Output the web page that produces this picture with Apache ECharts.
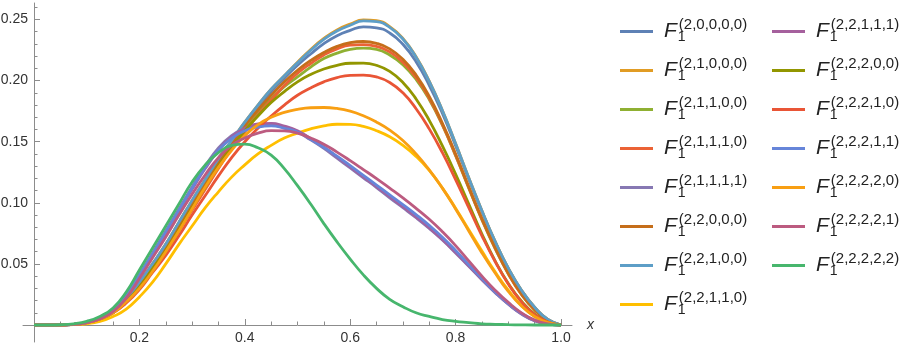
<!DOCTYPE html>
<html>
<head>
<meta charset="utf-8">
<script src="https://cdn.jsdelivr.net/npm/echarts@6/dist/echarts.min.js"></script>
<style>
html, body { margin: 0; padding: 0; background: #fff; }
#main { width: 900px; height: 344px; }
</style>
</head>
<body>
<div id="main"></div>
<script>
// x sample points
var xs = [0, 0.025, 0.05, 0.075, 0.1, 0.125, 0.15, 0.175, 0.2, 0.225, 0.25, 0.275, 0.3, 0.325, 0.35, 0.375, 0.4,
          0.425, 0.45, 0.475, 0.5, 0.525, 0.55, 0.575, 0.6, 0.625, 0.65, 0.675, 0.7, 0.725, 0.75, 0.775, 0.8,
          0.825, 0.85, 0.875, 0.9, 0.925, 0.95, 0.975, 1.0];

// curves
var s20000 = [0, 0, 0.0001, 0.0005, 0.002, 0.005, 0.011, 0.021, 0.035, 0.050, 0.066, 0.084, 0.101, 0.118, 0.135, 0.150, 0.165,
              0.178, 0.191, 0.202, 0.2125, 0.2218, 0.2302, 0.2368, 0.2411, 0.2440, 0.2432, 0.2390, 0.2297, 0.2155, 0.1962, 0.1732, 0.1468,
              0.1192, 0.0928, 0.068, 0.0462, 0.0283, 0.0144, 0.0045, 0];
var s21000 = [0, 0, 0.0001, 0.0005, 0.002, 0.005, 0.011, 0.021, 0.035, 0.050, 0.066, 0.084, 0.102, 0.119, 0.136, 0.151, 0.166,
              0.180, 0.193, 0.204, 0.215, 0.2255, 0.2345, 0.2415, 0.2462, 0.2497, 0.2490, 0.2442, 0.2345, 0.2195, 0.1995, 0.1755, 0.1485,
              0.1205, 0.0935, 0.0685, 0.0465, 0.0285, 0.0145, 0.0045, 0];
var s21100 = [0, 0, 0.0001, 0.0005, 0.002, 0.005, 0.011, 0.020, 0.033, 0.048, 0.063, 0.080, 0.098, 0.115, 0.132, 0.147, 0.161,
              0.174, 0.185, 0.195, 0.203, 0.211, 0.218, 0.2225, 0.2255, 0.2265, 0.2255, 0.221, 0.213, 0.201, 0.1845, 0.1635, 0.1385,
              0.112, 0.086, 0.0625, 0.042, 0.025, 0.0125, 0.004, 0];
var s21110 = [0, 0, 0.0001, 0.0005, 0.002, 0.005, 0.010, 0.019, 0.031, 0.045, 0.060, 0.077, 0.094, 0.111, 0.128, 0.144, 0.158,
              0.172, 0.184, 0.196, 0.206, 0.214, 0.221, 0.226, 0.229, 0.2295, 0.228, 0.2235, 0.215, 0.2025, 0.1855, 0.164, 0.139,
              0.1125, 0.0865, 0.063, 0.042, 0.025, 0.0125, 0.004, 0];
var s21111 = [0, 0, 0.0001, 0.0006, 0.002, 0.006, 0.012, 0.024, 0.041, 0.059, 0.077, 0.095, 0.113, 0.130, 0.145, 0.155, 0.161,
              0.164, 0.1645, 0.162, 0.158, 0.1515, 0.1445, 0.1365, 0.1285, 0.1205, 0.1125, 0.104, 0.096, 0.0878, 0.079, 0.0695, 0.059,
              0.048, 0.037, 0.0265, 0.017, 0.009, 0.0035, 0.001, 0];
var s22000 = [0, 0, 0.0001, 0.0005, 0.002, 0.005, 0.011, 0.021, 0.034, 0.049, 0.064, 0.081, 0.099, 0.116, 0.133, 0.148, 0.163,
              0.176, 0.188, 0.199, 0.2085, 0.2165, 0.223, 0.228, 0.231, 0.232, 0.2305, 0.226, 0.2175, 0.2045, 0.187, 0.165, 0.140,
              0.113, 0.087, 0.0635, 0.0425, 0.0255, 0.0125, 0.004, 0];
var s22100 = [0, 0, 0.0001, 0.0005, 0.002, 0.005, 0.011, 0.021, 0.035, 0.050, 0.066, 0.084, 0.102, 0.119, 0.136, 0.151, 0.166,
              0.180, 0.193, 0.204, 0.2145, 0.2248, 0.2337, 0.2405, 0.2453, 0.2488, 0.2482, 0.2436, 0.234, 0.2192, 0.1993, 0.1755, 0.1485,
              0.1205, 0.0935, 0.0685, 0.0465, 0.0285, 0.0145, 0.0045, 0];
var s22110 = [0, 0, 0.0001, 0.0003, 0.001, 0.003, 0.007, 0.013, 0.023, 0.035, 0.050, 0.066, 0.081, 0.096, 0.109, 0.121, 0.131,
              0.140, 0.147, 0.153, 0.157, 0.1605, 0.163, 0.1643, 0.1642, 0.1625, 0.159, 0.154, 0.147, 0.138, 0.1265, 0.112, 0.0955,
              0.078, 0.0605, 0.0435, 0.0285, 0.016, 0.007, 0.002, 0];
var s22111 = [0, 0, 0.0001, 0.0006, 0.002, 0.006, 0.012, 0.023, 0.040, 0.057, 0.075, 0.093, 0.111, 0.128, 0.143, 0.154, 0.161,
              0.1645, 0.165, 0.1628, 0.159, 0.1525, 0.1455, 0.1375, 0.1295, 0.1213, 0.1132, 0.105, 0.0968, 0.0885, 0.0797, 0.070, 0.0595,
              0.0485, 0.0373, 0.0268, 0.0172, 0.0092, 0.0036, 0.001, 0];
var s22200 = [0, 0, 0.0001, 0.0005, 0.002, 0.005, 0.010, 0.019, 0.031, 0.046, 0.061, 0.078, 0.096, 0.113, 0.130, 0.145, 0.159,
              0.171, 0.182, 0.191, 0.199, 0.205, 0.2095, 0.2125, 0.2142, 0.2143, 0.2125, 0.2075, 0.1985, 0.185, 0.1675, 0.1465, 0.1235,
              0.099, 0.0745, 0.0525, 0.034, 0.0195, 0.009, 0.0025, 0];
var s22210 = [0, 0, 0.0001, 0.0005, 0.002, 0.005, 0.010, 0.018, 0.029, 0.043, 0.057, 0.073, 0.090, 0.106, 0.122, 0.137, 0.150,
              0.161, 0.171, 0.180, 0.188, 0.194, 0.199, 0.2025, 0.2043, 0.2045, 0.203, 0.1985, 0.190, 0.177, 0.1605, 0.141, 0.119,
              0.096, 0.073, 0.052, 0.0335, 0.019, 0.0085, 0.0025, 0];
var s22211 = [0, 0, 0.0001, 0.0006, 0.002, 0.006, 0.012, 0.024, 0.041, 0.058, 0.076, 0.094, 0.112, 0.129, 0.143, 0.153, 0.159,
              0.162, 0.163, 0.161, 0.158, 0.152, 0.1455, 0.1382, 0.1305, 0.1225, 0.1145, 0.1065, 0.0985, 0.0903, 0.0815, 0.0718, 0.061,
              0.0495, 0.038, 0.027, 0.0175, 0.0095, 0.0038, 0.001, 0];
var s22220 = [0, 0, 0.0001, 0.0005, 0.002, 0.005, 0.010, 0.019, 0.030, 0.044, 0.060, 0.077, 0.095, 0.113, 0.129, 0.143, 0.155,
              0.164, 0.170, 0.174, 0.1765, 0.1778, 0.178, 0.1772, 0.175, 0.1712, 0.166, 0.1595, 0.151, 0.140, 0.127, 0.112, 0.095,
              0.077, 0.059, 0.0425, 0.0275, 0.0155, 0.007, 0.002, 0];
var s22221 = [0, 0, 0.0001, 0.0005, 0.002, 0.005, 0.011, 0.022, 0.038, 0.055, 0.072, 0.090, 0.107, 0.123, 0.137, 0.147, 0.153,
              0.157, 0.159, 0.1588, 0.157, 0.153, 0.148, 0.1415, 0.1345, 0.1272, 0.1198, 0.112, 0.104, 0.0955, 0.0865, 0.0763, 0.065,
              0.0525, 0.040, 0.0285, 0.0185, 0.010, 0.004, 0.001, 0];
var s22222 = [0, 0, 0.0002, 0.001, 0.003, 0.007, 0.014, 0.027, 0.045, 0.063, 0.081, 0.099, 0.117, 0.131, 0.141, 0.147, 0.148,
              0.145, 0.139, 0.128, 0.114, 0.099, 0.083, 0.068, 0.054, 0.041, 0.030, 0.021, 0.015, 0.010, 0.007, 0.0045, 0.003,
              0.002, 0.001, 0.0006, 0.0003, 0.0001, 0, 0, 0];

var names = ['(2,0,0,0,0)', '(2,1,0,0,0)', '(2,1,1,0,0)', '(2,1,1,1,0)', '(2,1,1,1,1)',
             '(2,2,0,0,0)', '(2,2,1,0,0)', '(2,2,1,1,0)', '(2,2,1,1,1)', '(2,2,2,0,0)',
             '(2,2,2,1,0)', '(2,2,2,1,1)', '(2,2,2,2,0)', '(2,2,2,2,1)', '(2,2,2,2,2)'];
var values = [s20000, s21000, s21100, s21110, s21111, s22000, s22100, s22110,
              s22111, s22200, s22210, s22211, s22220, s22221, s22222];
var colors = ['#5E81B5', '#E19C24', '#8FB032', '#EB6235', '#8778B3', '#C56E1A', '#5D9EC7', '#FFBF00',
              '#A5609D', '#929600', '#E95536', '#6685D9', '#F89F13', '#BC5B80', '#47B66D'];

var xMajor = [0.2, 0.4, 0.6, 0.8, 1.0];
var xMinor = [0.05, 0.1, 0.15, 0.25, 0.3, 0.35, 0.45, 0.5, 0.55, 0.65, 0.7, 0.75, 0.85, 0.9, 0.95];
var yMajor = [0.05, 0.1, 0.15, 0.2, 0.25];
var yMinor = [0.01, 0.02, 0.03, 0.04, 0.06, 0.07, 0.08, 0.09, 0.11, 0.12, 0.13, 0.14,
              0.16, 0.17, 0.18, 0.19, 0.21, 0.22, 0.23, 0.24, 0.26];

var font = 'Liberation Sans';
var axisColor = '#8c8c8c';

var series = names.map(function (name, i) {
    return {
        name: name,
        type: 'line',
        xAxisIndex: 0,
        yAxisIndex: 0,
        smooth: true,
        symbol: 'none',
        color: colors[i],
        lineStyle: { width: 2.8 },
        data: xs.map(function (x, j) { return [x, values[i][j]]; })
    };
});

var legendText = {
    fontFamily: font,
    color: '#222',
    rich: {
        f: { fontFamily: font, fontSize: 21, fontStyle: 'italic', lineHeight: 30, padding: [0, 0, 0, 6] },
        b: { fontFamily: font, fontSize: 14, lineHeight: 14, width: 0, padding: [11, 0, 0, 1] },
        p: { fontFamily: font, fontSize: 15, lineHeight: 16, padding: [0, 0, 14, 1] }
    }
};
function legendFmt(name) {
    return '{f|F}{b|1}{p|' + name + '}';
}

var myChart = echarts.init(document.getElementById('main'));
var option = {
    animation: false,
    grid: { left: 23, top: 3, width: 549, height: 339, containLabel: false, outerBoundsMode: 'none' },
    legend: [
        {
            orient: 'vertical', left: 620, top: 17, padding: 0, itemGap: 10,
            icon: 'rect', itemWidth: 33, itemHeight: 3, selectedMode: false,
            data: names.slice(0, 8), formatter: legendFmt, textStyle: legendText
        },
        {
            orient: 'vertical', left: 772, top: 17, padding: 0, itemGap: 10,
            icon: 'rect', itemWidth: 33, itemHeight: 3, selectedMode: false,
            data: names.slice(8), formatter: legendFmt, textStyle: legendText
        }
    ],
    xAxis: [
        {
            type: 'value', min: -0.0209, max: 1.0209,
            name: 'x', nameLocation: 'end', nameGap: 15,
            nameTextStyle: { fontFamily: font, fontStyle: 'italic', fontSize: 14, color: '#333', verticalAlign: 'middle' },
            axisLine: { onZero: true, lineStyle: { color: axisColor, width: 1 } },
            axisTick: { inside: true, length: 6, customValues: xMajor, lineStyle: { color: axisColor } },
            axisLabel: { customValues: xMajor, margin: -11, fontFamily: font, fontSize: 14, color: '#333',
                         formatter: function (v) { return v.toFixed(1); } },
            splitLine: { show: false }
        },
        {
            type: 'value', min: -0.0209, max: 1.0209, position: 'bottom',
            axisLine: { show: false, onZero: true, onZeroAxisIndex: 0 },
            axisTick: { inside: true, length: 3.5, customValues: xMinor, lineStyle: { color: axisColor } },
            axisLabel: { show: false, customValues: xMinor },
            splitLine: { show: false }
        }
    ],
    yAxis: [
        {
            type: 'value', min: -0.0139, max: 0.2635,
            axisLine: { onZero: true, lineStyle: { color: axisColor, width: 1 } },
            axisTick: { inside: true, length: 6, customValues: yMajor, lineStyle: { color: axisColor } },
            axisLabel: { customValues: yMajor, margin: -5, fontFamily: font, fontSize: 14, color: '#333',
                         formatter: function (v) { return v.toFixed(2); } },
            splitLine: { show: false }
        },
        {
            type: 'value', min: -0.0139, max: 0.2635, position: 'left',
            axisLine: { show: false, onZero: true, onZeroAxisIndex: 0 },
            axisTick: { inside: true, length: 3.5, customValues: yMinor, lineStyle: { color: axisColor } },
            axisLabel: { show: false, customValues: yMinor },
            splitLine: { show: false }
        }
    ],
    series: series
};

myChart.setOption(option);
</script>
</body>
</html>
